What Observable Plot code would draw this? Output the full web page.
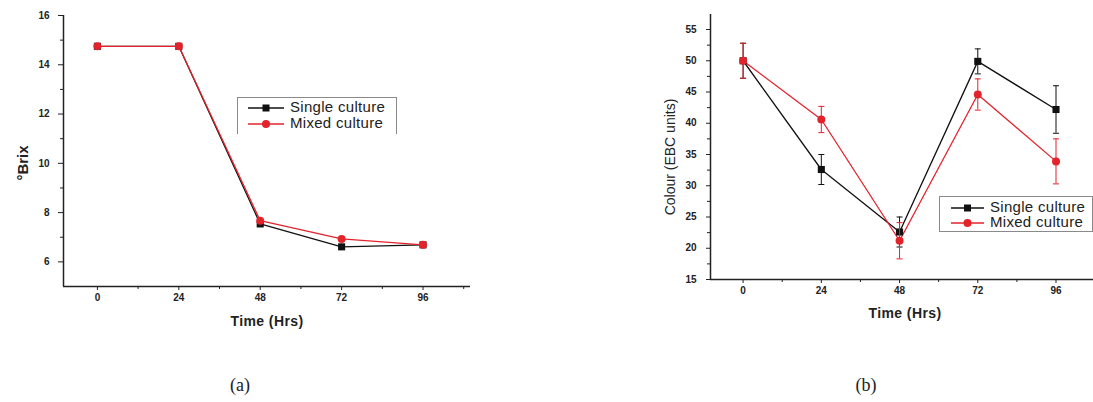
<!DOCTYPE html>
<html><head><meta charset="utf-8">
<script src="https://cdn.jsdelivr.net/npm/d3@7"></script>
<script src="https://cdn.jsdelivr.net/npm/@observablehq/plot@0.6"></script>
<style>
html,body{margin:0;padding:0;background:#fff}
body{width:1093px;height:402px;position:relative;overflow:hidden;font-family:"Liberation Sans",Arial,sans-serif;color:#222}
.chart{position:absolute;top:0}
.title{position:absolute;white-space:nowrap;transform:translate(-50%,-50%)}
.ytitle{transform:translate(-50%,-50%) rotate(-90deg)}
.legend{position:absolute;background:#fff;border:1px solid #8a8a8a;font-size:15px;letter-spacing:0.3px}
.legend .row{position:absolute;left:0;height:16px;line-height:16px;white-space:nowrap}
.legend svg{position:absolute;top:0;overflow:visible}
.legend span{position:absolute;top:-1px}
.cap{position:absolute;font-family:"Liberation Serif","DejaVu Serif",serif;font-size:18px;transform:translate(-50%,-50%)}
</style></head>
<body>
<div id="a" class="chart" style="left:0"></div>
<div id="b" class="chart" style="left:630px"></div>
<script>
// ---- data ----
const hours = [0, 24, 48, 72, 96];
const seriesNames = ["Single culture", "Mixed culture"];
const brixSingle = [14.75, 14.75, 7.54, 6.61, 6.69];
const brixMixed  = [14.75, 14.75, 7.67, 6.93, 6.69];
const colourSingle    = [50, 32.6, 22.6, 49.9, 42.2];
const colourSingleErr = [2.8, 2.4, 2.4, 2.0, 3.8];
const colourMixed     = [50, 40.6, 21.2, 44.6, 33.9];
const colourMixedErr  = [2.8, 2.1, 2.9, 2.5, 3.6];
const xMajorTicks = [0, 24, 48, 72, 96];
const xMinorTicksA = [12, 36, 60, 84, 108];
const xMinorTicksB = [12, 36, 60, 84];
const brixTicks = [6, 8, 10, 12, 14, 16];
const brixMinorTicks = [7, 9, 11, 13, 15];
const colourTicks = [15, 20, 25, 30, 35, 40, 45, 50, 55];
const colourMinorTicks = [17.5, 22.5, 27.5, 32.5, 37.5, 42.5, 47.5, 52.5];
const xTitle = "Time (Hrs)";
const brixTitle = "°Brix";
const colourTitle = "Colour (EBC units)";
const panelLabels = ["(a)", "(b)"];

const BLACK = "#111", RED = "#e3232c";
const colors = [BLACK, RED];
const symbols = ["square", "circle"];

const capSymbol = {draw(ctx, size) { const r = Math.sqrt(size / Math.PI); ctx.moveTo(-r, 0); ctx.lineTo(r, 0); }};

function rows(ys, errs, s) {
  return hours.map((h, i) => ({x: h, y: ys[i], e: errs ? errs[i] : 0, s}));
}

const baseStyle = {fontFamily: "'Liberation Sans', Arial, sans-serif", fontSize: "10px", fontWeight: "bold", color: "#222", background: "transparent", overflow: "visible"};

// ---- chart (a) ----
const brixData = [rows(brixSingle, null, 0), rows(brixMixed, null, 1)];
const chartA = Plot.plot({
  width: 480, height: 310,
  marginLeft: 63, marginTop: 15, marginBottom: 24, marginRight: 10,
  x: {domain: [-10, 110]},
  y: {domain: [5, 16]},
  style: baseStyle,
  marks: [
    Plot.axisX(xMajorTicks, {tickSize: 4, tickPadding: 3, label: null}),
    Plot.axisX(xMinorTicksA, {tickSize: 3, tickFormat: () => "", label: null}),
    Plot.axisY(brixTicks, {tickSize: 5, tickPadding: 9, label: null}),
    Plot.axisY(brixMinorTicks, {tickSize: 3, tickFormat: () => "", label: null}),
    Plot.ruleX([-10], {stroke: "#222", strokeWidth: 1.5}),
    Plot.ruleY([5], {stroke: "#222", strokeWidth: 1.5}),
    ...brixData.flatMap((d, k) => [
      Plot.line(d, {x: "x", y: "y", stroke: colors[k], strokeWidth: 1.3}),
      Plot.dot(d, {x: "x", y: "y", symbol: symbols[k], r: 4, fill: colors[k], stroke: "none"})
    ])
  ]
});
document.getElementById("a").appendChild(chartA);

// ---- chart (b) ----
const colourData = [rows(colourSingle, colourSingleErr, 0), rows(colourMixed, colourMixedErr, 1)];
const chartB = Plot.plot({
  width: 463, height: 310,
  marginLeft: 80, marginTop: 14, marginBottom: 31, marginRight: 0,
  x: {domain: [-10, 107.5]},
  y: {domain: [15, 57.4]},
  style: baseStyle,
  marks: [
    Plot.axisX(xMajorTicks, {tickSize: 4, tickPadding: 3, label: null}),
    Plot.axisX(xMinorTicksB, {tickSize: 3, tickFormat: () => "", label: null}),
    Plot.axisY(colourTicks, {tickSize: 4, tickPadding: 10, label: null}),
    Plot.axisY(colourMinorTicks, {tickSize: 3, tickFormat: () => "", label: null}),
    Plot.ruleX([-10], {stroke: "#222", strokeWidth: 1.5}),
    Plot.ruleY([15], {stroke: "#222", strokeWidth: 1.5}),
    ...colourData.map((d, k) => Plot.line(d, {x: "x", y: "y", stroke: colors[k], strokeWidth: 1.3})),
    ...colourData.flatMap((d, k) => [
      Plot.ruleX(d, {x: "x", y1: dd => dd.y - dd.e, y2: dd => dd.y + dd.e, stroke: colors[k], strokeWidth: 1}),
      Plot.dot(d, {x: "x", y: dd => dd.y + dd.e, symbol: capSymbol, r: 3, stroke: colors[k], strokeWidth: 1}),
      Plot.dot(d, {x: "x", y: dd => dd.y - dd.e, symbol: capSymbol, r: 3, stroke: colors[k], strokeWidth: 1}),
      Plot.dot(d, {x: "x", y: "y", symbol: symbols[k], r: 4, fill: colors[k], stroke: "none"})
    ])
  ]
});
document.getElementById("b").appendChild(chartB);

// ---- titles ----
function addText(cls, text, x, y, css) {
  const el = document.createElement("div");
  el.className = cls;
  el.textContent = text;
  el.style.left = x + "px"; el.style.top = y + "px";
  Object.assign(el.style, css || {});
  document.body.appendChild(el);
  return el;
}
addText("title", xTitle, 267, 321, {fontSize: "14px", fontWeight: "bold", letterSpacing: "0.4px"});
addText("title", xTitle, 905, 313, {fontSize: "14px", fontWeight: "bold", letterSpacing: "0.4px"});
addText("title ytitle", brixTitle, 22, 163, {fontSize: "15px", fontWeight: "bold"});
addText("title ytitle", colourTitle, 670, 157, {fontSize: "14px"});
addText("cap", panelLabels[0], 240, 385);
addText("cap", panelLabels[1], 866, 385);

// ---- legends ----
function legend(left, top, w, h, rowTops, lineX0, lineX1, textX, noBottom) {
  const box = document.createElement("div");
  box.className = "legend";
  Object.assign(box.style, {left: left + "px", top: top + "px", width: w + "px", height: h + "px"});
  if (noBottom) box.style.borderBottom = "none";
  seriesNames.forEach((name, k) => {
    const row = document.createElement("div");
    row.className = "row";
    row.style.top = rowTops[k] + "px";
    const mx = (lineX0 + lineX1) / 2;
    const marker = symbols[k] === "square"
      ? `<rect x="${mx - 3.5}" y="4.5" width="7" height="7" fill="${colors[k]}"/>`
      : `<circle cx="${mx}" cy="8" r="4" fill="${colors[k]}"/>`;
    row.innerHTML = `<svg width="${lineX1 + 2}" height="16"><line x1="${lineX0}" x2="${lineX1}" y1="8" y2="8" stroke="${colors[k]}" stroke-width="1.3"/>${marker}</svg><span style="left:${textX}px">${name}</span>`;
    box.appendChild(row);
  });
  document.body.appendChild(box);
}
legend(237, 97, 158, 36, [2, 18], 10, 46, 52, true);
legend(939, 196, 152, 34, [3, 18], 11, 44, 50, false);
</script>
</body></html>
